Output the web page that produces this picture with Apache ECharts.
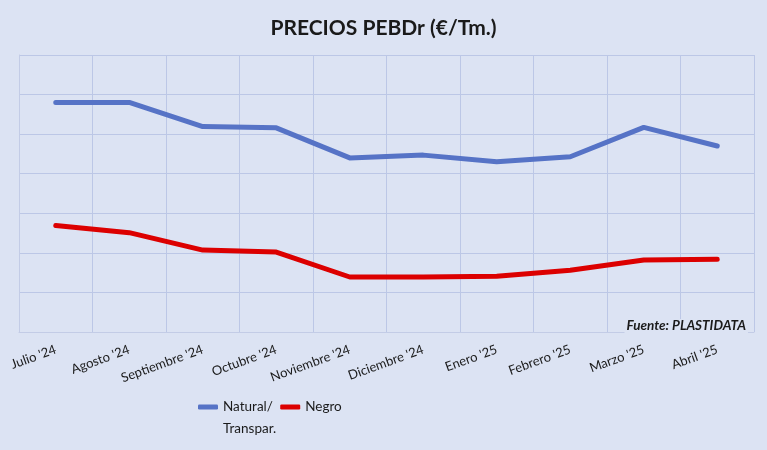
<!DOCTYPE html>
<html>
<head>
<meta charset="utf-8">
<script src="https://cdn.jsdelivr.net/npm/echarts@6/dist/echarts.min.js"></script>
<style>
html,body{margin:0;padding:0;background:#dce3f3;}
#c{width:767px;height:450px;}
</style>
</head>
<body>
<div id="c"></div>
<script>
const categories = ["Julio '24","Agosto '24","Septiembre '24","Octubre '24","Noviembre '24","Diciembre '24","Enero '25","Febrero '25","Marzo '25","Abril '25"];
const natural = [1280, 1280, 1219, 1216, 1140, 1147, 1130, 1143, 1217, 1170];
const negro = [969, 951, 907, 902, 839, 839, 841, 856, 882, 884];
const seriesNames = ["Natural/ Transpar.", "Negro"];

const chart = echarts.init(document.getElementById('c'));
chart.setOption({
  backgroundColor: '#dce3f3',
  animation: false,
  title: {
    text: 'PRECIOS PEBDr (€/Tm.)',
    left: 'center',
    top: 13,
    textStyle: {fontFamily: 'Lato', fontWeight: 'bold', fontSize: 21, color: '#1a1a1a'}
  },
  grid: {left: 19, right: 13, top: 55, bottom: 118, containLabel: false},
  xAxis: {
    type: 'category',
    data: categories,
    boundaryGap: true,
    axisLine: {show: true, lineStyle: {color: '#c3cce6', width: 1}},
    axisTick: {show: false},
    splitLine: {show: true, lineStyle: {color: '#bcc7e6', width: 1}},
    axisLabel: {
      rotate: 20,
      interval: 0,
      margin: 17,
      fontFamily: 'Lato',
      fontSize: 13,
      color: '#1a1a1a'
    }
  },
  yAxis: {
    type: 'value',
    min: 700,
    max: 1400,
    interval: 100,
    axisLine: {show: true, lineStyle: {color: '#c3cce6'}},
    axisTick: {show: false},
    axisLabel: {show: false},
    splitLine: {show: true, lineStyle: {color: '#bcc7e6', width: 1}}
  },
  legend: {
    left: 193,
    top: 373,
    itemWidth: 20,
    itemHeight: 5,
    itemGap: 4,
    icon: 'roundRect',
    textStyle: {
      fontFamily: 'Lato', fontSize: 13.5, color: '#1a1a1a',
      rich: {
        e: {fontFamily: 'Lato', fontSize: 13.5, lineHeight: 22},
        a: {fontFamily: 'Lato', fontSize: 13.5, lineHeight: 22, color: '#1a1a1a'}
      }
    },
    formatter: function (name) {
      if (name === seriesNames[0]) {
        const parts = name.split(' ');
        return '{e| }\n{a|' + parts[0] + '}\n{a|' + parts[1] + '}';
      }
      return '{a|' + name + '}';
    },
    data: seriesNames
  },
  graphic: [{
    type: 'text',
    right: 19,
    top: 319,
    z: 100,
    style: {
      text: 'Fuente: PLASTIDATA',
      font: 'italic bold 13.5px Lato',
      fill: '#1a1a1a',
      backgroundColor: '#dce3f3',
      padding: [0, 2, 0, 2]
    }
  }],
  series: [
    {
      name: seriesNames[0],
      type: 'line',
      data: natural,
      symbol: 'none',
      lineStyle: {color: '#5673c6', width: 5, cap: 'round', join: 'round'},
      itemStyle: {color: '#5673c6'}
    },
    {
      name: seriesNames[1],
      type: 'line',
      data: negro,
      symbol: 'none',
      lineStyle: {color: '#dc0000', width: 5, cap: 'round', join: 'round'},
      itemStyle: {color: '#dc0000'}
    }
  ]
});
</script>
</body>
</html>
